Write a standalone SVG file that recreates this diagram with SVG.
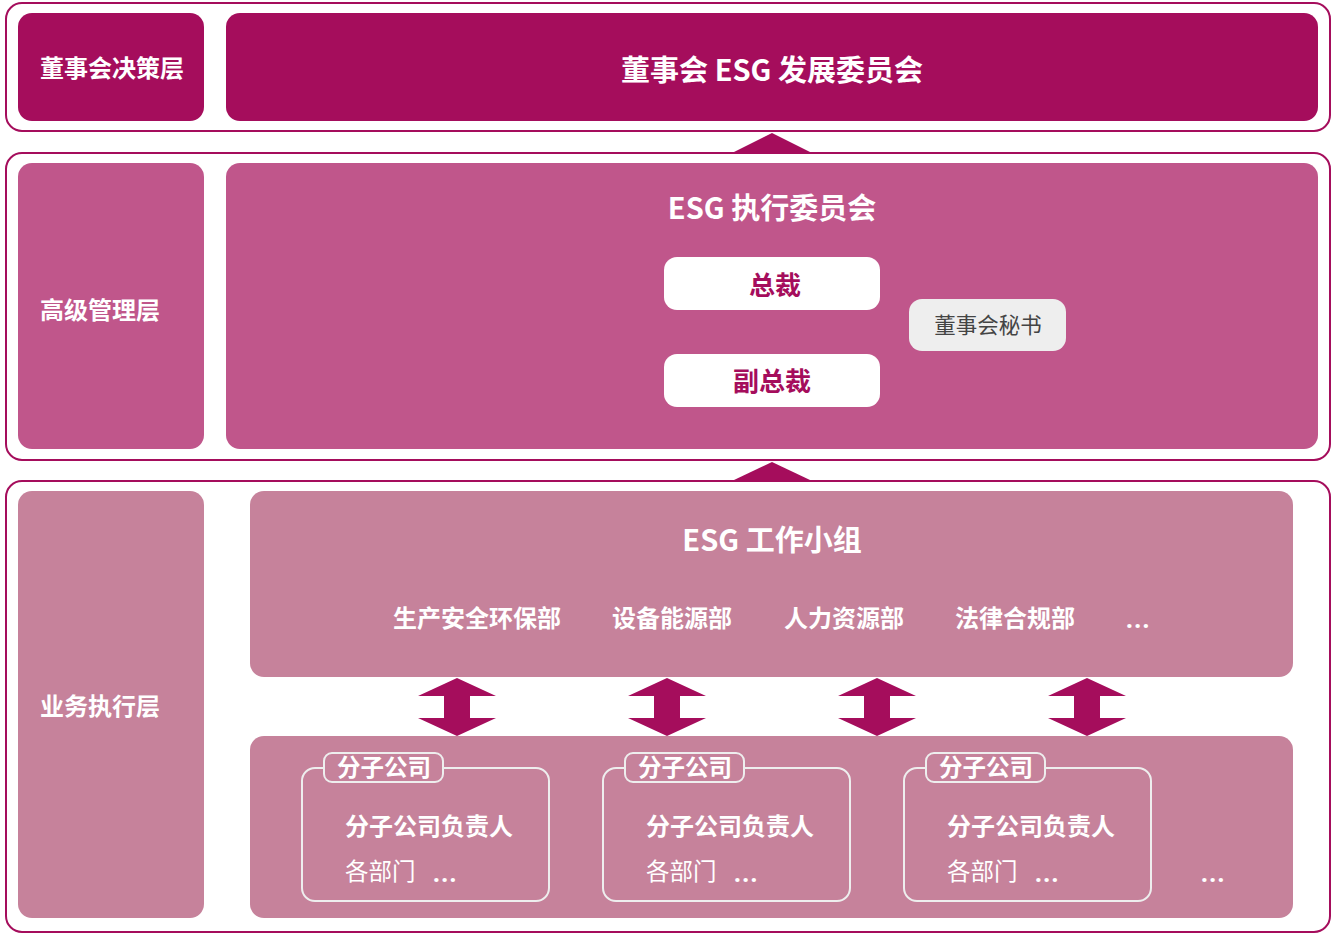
<svg xmlns="http://www.w3.org/2000/svg" width="1335" height="933" viewBox="0 0 1335 933">
<style>
text{font-family:"Noto Sans CJK SC","Noto Sans",sans-serif;dominant-baseline:central}
.frame{fill:#fff;stroke:#A50D5C;stroke-width:2}
.c1{fill:#A50D5C}
.c2{fill:#C0568B}
.c3{fill:#C6829B}
.w{fill:#fff;font-weight:700}
.lbl{font-size:24px}
.big{font-size:29px;text-anchor:middle}
.dept{font-size:24px;text-anchor:middle}
.tagt{font-size:23.5px;text-anchor:middle}
.pill{fill:#fff}
.pt{fill:#A50D5C;font-weight:700;font-size:26px;text-anchor:middle}
.sub{fill:none;stroke:#EEEEEE;stroke-width:2}
.tag{fill:#C6829B;stroke:#EEEEEE;stroke-width:2}
.dots{font-family:"Noto Sans",sans-serif;font-weight:700;font-size:24px;letter-spacing:1.5px;dominant-baseline:alphabetic}
.arr{fill:#A50D5C}
</style>
<rect class="frame" x="6" y="3" width="1324" height="128" rx="16"/>
<rect class="frame" x="6" y="153" width="1324" height="307" rx="16"/>
<rect class="frame" x="6" y="481" width="1324" height="451" rx="16"/>

<g id="layer1-label"><rect class="c1" x="18" y="13" width="186" height="108" rx="14"/><text class="w lbl" x="40" y="66">董事会决策层</text></g>
<g id="board-esg"><rect class="c1" x="226" y="13" width="1092" height="108" rx="14"/><text class="w big" x="772" y="68">董事会 ESG 发展委员会</text></g>

<g id="layer2-label"><rect class="c2" x="18" y="163" width="186" height="286" rx="14"/><text class="w lbl" x="40" y="308">高级管理层</text></g>
<g id="esg-exec"><rect class="c2" x="226" y="163" width="1092" height="286" rx="14"/><text class="w big" x="772" y="206">ESG 执行委员会</text></g>
<g id="president"><rect class="pill" x="664" y="257" width="216" height="53" rx="13"/><text class="pt" x="775" y="283">总裁</text></g>
<g id="vice-president"><rect class="pill" x="664" y="354" width="216" height="53" rx="13"/><text class="pt" x="772" y="379">副总裁</text></g>
<g id="secretary"><rect fill="#EEEEEE" x="909" y="299" width="157" height="52" rx="13"/><text x="988" y="323" font-size="21.5" fill="#444" text-anchor="middle">董事会秘书</text></g>

<g id="layer3-label"><rect class="c3" x="18" y="491" width="186" height="427" rx="14"/><text class="w lbl" x="40" y="704">业务执行层</text></g>
<g id="esg-group"><rect class="c3" x="250" y="491" width="1043" height="186" rx="14"/><text class="w big" x="772" y="538">ESG 工作小组</text>
<text class="w dept" x="477" y="616">生产安全环保部</text>
<text class="w dept" x="672" y="616">设备能源部</text>
<text class="w dept" x="844" y="616">人力资源部</text>
<text class="w dept" x="1015" y="616">法律合规部</text>
<text class="dots" fill="#fff" x="1126" y="628">...</text>
</g>
<g id="subsidiaries"><rect class="c3" x="250" y="736" width="1043" height="182" rx="14"/>
<text class="dots" fill="#fff" x="1201" y="882">...</text>
</g>
<g id="sub1"><rect class="sub" x="302" y="768" width="247" height="133" rx="13"/><rect class="tag" x="324" y="753" width="119" height="29" rx="8"/><text class="w tagt" x="384" y="766">分子公司</text><text class="w lbl" x="345" y="824">分子公司负责人</text><text fill="#fff" font-size="23.5" x="345" y="870">各部门</text><text class="dots" fill="#fff" x="433" y="882">...</text></g>
<g id="sub2"><rect class="sub" x="603" y="768" width="247" height="133" rx="13"/><rect class="tag" x="625" y="753" width="119" height="29" rx="8"/><text class="w tagt" x="685" y="766">分子公司</text><text class="w lbl" x="646" y="824">分子公司负责人</text><text fill="#fff" font-size="23.5" x="646" y="870">各部门</text><text class="dots" fill="#fff" x="734" y="882">...</text></g>
<g id="sub3"><rect class="sub" x="904" y="768" width="247" height="133" rx="13"/><rect class="tag" x="926" y="753" width="119" height="29" rx="8"/><text class="w tagt" x="986" y="766">分子公司</text><text class="w lbl" x="947" y="824">分子公司负责人</text><text fill="#fff" font-size="23.5" x="947" y="870">各部门</text><text class="dots" fill="#fff" x="1035" y="882">...</text></g>

<g id="connectors">
<polygon class="arr" points="772,133 810,152 734,152"/>
<polygon class="arr" points="772,462 810,480 734,480"/>
<polygon class="arr" points="457,678 496,696 470,696 470,718 496,718 457,736 418,718 444,718 444,696 418,696"/>
<polygon class="arr" points="667,678 706,696 680,696 680,718 706,718 667,736 628,718 654,718 654,696 628,696"/>
<polygon class="arr" points="877,678 916,696 890,696 890,718 916,718 877,736 838,718 864,718 864,696 838,696"/>
<polygon class="arr" points="1087,678 1126,696 1100,696 1100,718 1126,718 1087,736 1048,718 1074,718 1074,696 1048,696"/>
</g>
</svg>
